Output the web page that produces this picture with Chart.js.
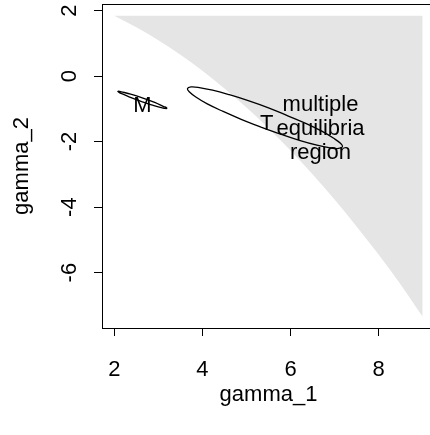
<!DOCTYPE html>
<html lang="en">
<head>
<meta charset="UTF-8">
<title>gamma_1 / gamma_2</title>
<script src="https://cdn.jsdelivr.net/npm/chart.js"></script>
<style>
  html, body { margin: 0; padding: 0; background: #fff; overflow: hidden; }
  #wrap { width: 430px; height: 435px; overflow: hidden; }
  canvas { display: block; }
</style>
</head>
<body>
<div id="wrap"><canvas id="grafico" width="440" height="435"></canvas></div>
<script>
// lower-left edge of the grey "multiple equilibria" area
const bordaX = [2.0, 2.5, 3.0, 3.5, 4.0, 4.5, 5.0, 5.5, 6.0, 6.5, 7.0, 7.5, 8.0, 8.5, 9.0];
const bordaY = [1.84, 1.49, 1.09, 0.65, 0.16, -0.38, -0.96, -1.59, -2.27, -3.00, -3.77, -4.59, -5.45, -6.36, -7.35];
// upper edge of the grey area
const topoX = [2.0, 9.0];
const topoY = [1.84, 1.84];

// ellipse around T
const elipTX = [5.33, 4.88, 4.47, 4.11, 3.85, 3.70, 3.66, 3.74, 3.93, 4.23, 4.61, 5.04, 5.50,
                5.95, 6.37, 6.72, 6.98, 7.14, 7.18, 7.09, 6.90, 6.60, 6.22, 5.79, 5.33];
const elipTY = [-1.56, -1.32, -1.08, -0.85, -0.64, -0.48, -0.38, -0.33, -0.35, -0.43, -0.57, -0.75, -0.97,
                -1.22, -1.46, -1.69, -1.90, -2.06, -2.16, -2.21, -2.19, -2.11, -1.97, -1.78, -1.56];
// ellipse around M
const elipMX = [2.62, 2.35, 2.15, 2.10, 2.08, 2.10, 2.16, 2.37, 2.65, 2.93, 3.12, 3.18, 3.19, 3.17, 3.11, 2.90, 2.62];
const elipMY = [-0.78, -0.64, -0.53, -0.49, -0.47, -0.46, -0.48, -0.55, -0.67, -0.81, -0.93, -0.96, -0.99, -0.99, -0.98, -0.90, -0.78];

const xTicks = [2, 4, 6, 8];
const yTicks = [-6, -4, -2, 0, 2];

const textos = ['M', 'T', 'multiple\nequilibria\nregion'];
const textoX = [2.64, 5.46, 6.68];
const textoY = [-0.91, -1.45, -1.62];

const FONTE = 'Liberation Sans, Arial, Helvetica, sans-serif';
Chart.defaults.font.family = FONTE;
Chart.defaults.font.size = 22;
Chart.defaults.color = '#000';

function pontos(xs, ys) {
    return xs.map((v, i) => ({x: v, y: ys[i]}));
}

// box + text labels
const extras = {
    id: 'extras',
    afterDatasetsDraw(chart) {
        const {ctx, chartArea: a, scales: {x, y}} = chart;
        ctx.save();
        ctx.fillStyle = '#000';
        ctx.font = '22px ' + FONTE;
        ctx.textAlign = 'center';
        ctx.textBaseline = 'middle';
        textos.forEach((t, i) => {
            const linhas = t.split('\n');
            const px = x.getPixelForValue(textoX[i]);
            const py = y.getPixelForValue(textoY[i]);
            linhas.forEach((l, k) => {
                ctx.fillText(l, px, py + (k - (linhas.length - 1) / 2) * 24);
            });
        });
        ctx.strokeStyle = '#000';
        ctx.lineWidth = 1;
        ctx.strokeRect(a.left + 0.5, a.top + 0.5, a.right - a.left, a.bottom - a.top);
        ctx.restore();
    }
};

const grafico = new Chart(document.getElementById('grafico'), {
    type: 'line',
    data: {
        datasets: [
            {
                data: pontos(bordaX, bordaY),
                borderWidth: 0,
                pointRadius: 0,
                backgroundColor: '#e5e5e5',
                fill: '+1',
                cubicInterpolationMode: 'monotone',
                order: 5
            },
            {
                data: pontos(topoX, topoY),
                borderWidth: 0,
                pointRadius: 0,
                fill: false,
                order: 6
            },
            {
                data: pontos(elipTX, elipTY),
                borderColor: '#000',
                borderWidth: 1.3,
                pointRadius: 0,
                tension: 0.4,
                fill: false,
                order: 1
            },
            {
                data: pontos(elipMX, elipMY),
                borderColor: '#000',
                borderWidth: 1.3,
                pointRadius: 0,
                tension: 0.3,
                fill: false,
                order: 1
            }
        ]
    },
    options: {
        responsive: false,
        animation: false,
        devicePixelRatio: 1,
        layout: { padding: { top: 4, right: 5, left: 0, bottom: 0 } },
        plugins: {
            legend: { display: false },
            tooltip: { enabled: false }
        },
        scales: {
            x: {
                type: 'linear',
                min: 1.72,
                max: 9.28,
                afterBuildTicks: s => { s.ticks = xTicks.map(v => ({value: v})); },
                afterFit: s => {
                    s.height = 107;
                    s.paddingLeft = 0; s.paddingRight = 0;
                },
                border: { display: false },
                grid: { drawOnChartArea: false, drawTicks: true, tickLength: 8, color: '#000' },
                ticks: { padding: 21, maxRotation: 0, autoSkip: false },
                title: { display: true, text: 'gamma_1', padding: { top: 0, bottom: 27 } }
            },
            y: {
                type: 'linear',
                min: -7.69,
                max: 2.2,
                afterBuildTicks: s => { s.ticks = yTicks.map(v => ({value: v})); },
                afterFit: s => {
                    s.width = 102;
                    s.paddingTop = 0; s.paddingBottom = 0;
                },
                border: { display: false },
                grid: { drawOnChartArea: false, drawTicks: true, tickLength: 8, color: '#000' },
                ticks: { padding: 14, minRotation: 90, maxRotation: 90, crossAlign: 'center', autoSkip: false },
                title: { display: true, text: 'gamma_2', padding: { top: 9, bottom: 0 } }
            }
        }
    },
    plugins: [extras]
});
</script>
</body>
</html>
